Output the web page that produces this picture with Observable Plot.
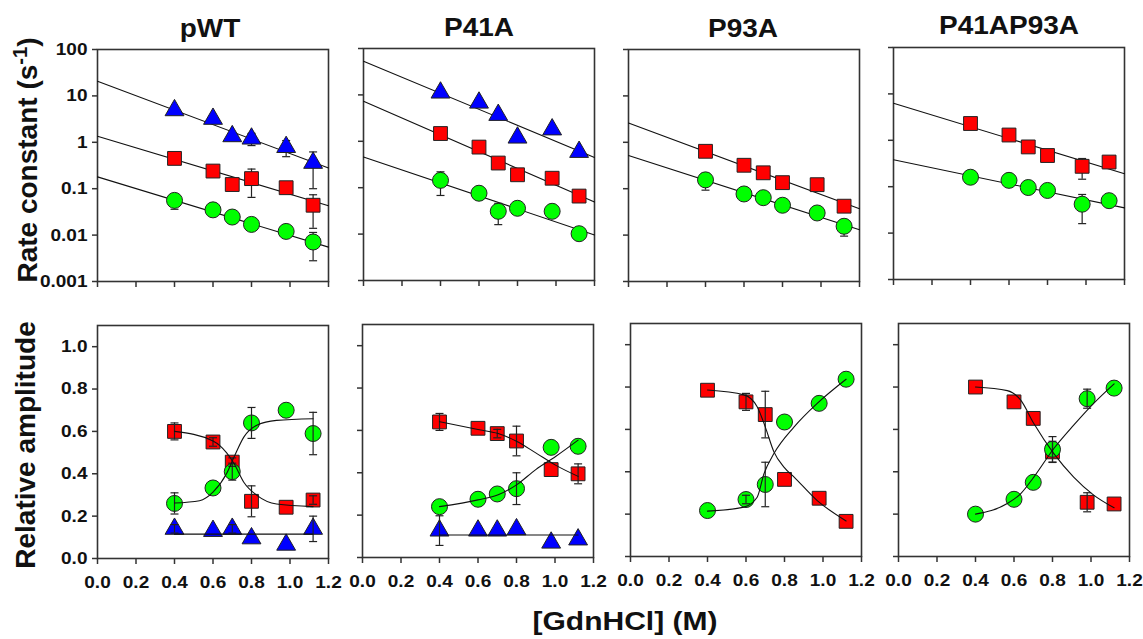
<!DOCTYPE html>
<html>
<head>
<meta charset="utf-8">
<script src="https://cdn.jsdelivr.net/npm/d3@7"></script>
<script src="https://cdn.jsdelivr.net/npm/@observablehq/plot@0.6"></script>
<style>
  html, body { margin: 0; padding: 0; background: #ffffff; }
  #chart { position: relative; width: 1143px; height: 639px; overflow: hidden;
           font-family: "Liberation Sans", Arial, sans-serif; font-weight: bold; color: #111; background: #fff; }
  .panel { position: absolute; }
  .txt { position: absolute; white-space: nowrap; line-height: 1; }
</style>
</head>
<body>
<div id="chart"></div>
<script>
// ---------- data ----------
const mutants = ["pWT", "P41A", "P93A", "P41AP93A"];
const gdn = [0.4, 0.6, 0.7, 0.8, 0.98, 1.12];          // [GdnHCl] (M)
const fitX = [0, 1.2];                                  // ends of the log-linear fits
const xTicks = [0, 0.2, 0.4, 0.6, 0.8, 1.0, 1.2];
const xTickLabels = ["0.0", "0.2", "0.4", "0.6", "0.8", "1.0", "1.2"];
const rateTicks = [0.001, 0.01, 0.1, 1, 10, 100];
const rateTickLabels = ["0.001", "0.01", "0.1", "1", "10", "100"];
const ampTicks = [0, 0.2, 0.4, 0.6, 0.8, 1.0];
const ampTickLabels = ["0.0", "0.2", "0.4", "0.6", "0.8", "1.0"];

// rate constants (s-1): fast = triangles, mid = squares, slow = circles
const pWT_kFast = [4.9, 3.2, 1.35, 1.2, 0.79, 0.36];
const pWT_kFastErr = [0, 0, 0, 0.35, 0.3, 0.26];
const pWT_kFastFit = [20.7, 0.28];
const pWT_kMid = [0.45, 0.24, 0.123, 0.165, 0.105, 0.044];
const pWT_kMidErr = [0, 0, 0, 0.1, 0, 0.03];
const pWT_kMidFit = [1.35, 0.043];
const pWT_kSlow = [0.056, 0.035, 0.0245, 0.017, 0.012, 0.0071];
const pWT_kSlowErr = [0.02, 0, 0, 0, 0, 0.0043];
const pWT_kSlowFit = [0.18, 0.0055];

const P41A_kFast = [11.2, 6.8, 3.7, 1.2, 1.8, 0.59];
const P41A_kFastErr = [0, 0, 0.5, 0, 0, 0.1];
const P41A_kFastFit = [53, 0.45];
const P41A_kMid = [1.47, 0.75, 0.34, 0.19, 0.16, 0.066];
const P41A_kMidErr = [0, 0, 0, 0, 0, 0];
const P41A_kMidFit = [7.3, 0.049];
const P41A_kSlow = [0.144, 0.076, 0.031, 0.036, 0.031, 0.0102];
const P41A_kSlowErr = [0.076, 0, 0.015, 0, 0, 0];
const P41A_kSlowFit = [0.46, 0.0096];

const P93A_kMid = [0.64, 0.32, 0.22, 0.135, 0.122, 0.042];
const P93A_kMidErr = [0, 0, 0, 0, 0.02, 0];
const P93A_kMidFit = [2.6, 0.037];
const P93A_kSlow = [0.155, 0.077, 0.064, 0.044, 0.030, 0.0155];
const P93A_kSlowErr = [0.062, 0, 0, 0, 0, 0.006];
const P93A_kSlowFit = [0.52, 0.013];

const P41AP93A_kMid = [2.3, 1.3, 0.72, 0.47, 0.275, 0.34];
const P41AP93A_kMidErr = [0, 0, 0, 0, 0.13, 0];
const P41AP93A_kMidFit = [6.3, 0.19];
const P41AP93A_kSlow = [0.16, 0.137, 0.096, 0.083, 0.042, 0.05];
const P41AP93A_kSlowErr = [0, 0, 0, 0, 0.026, 0];
const P41AP93A_kSlowFit = [0.38, 0.035];

// relative amplitudes
const pWT_aFast = [0.14, 0.13, 0.14, 0.095, 0.065, 0.14];
const pWT_aFastErr = [0.02, 0, 0.02, 0, 0, 0.06];
const pWT_aFastCurveX = [0.4, 1.12];
const pWT_aFastCurveY = [0.115, 0.115];
const pWT_aMid = [0.60, 0.55, 0.455, 0.27, 0.242, 0.276];
const pWT_aMidErr = [0.04, 0.02, 0.02, 0.073, 0, 0.02];
const pWT_aMidCurveX = [0.4, 0.6, 0.67, 0.71, 0.76, 0.83, 0.93, 1.12];
const pWT_aMidCurveY = [0.60, 0.555, 0.50, 0.447, 0.36, 0.297, 0.257, 0.245];
const pWT_aSlow = [0.26, 0.333, 0.41, 0.64, 0.70, 0.59];
const pWT_aSlowErr = [0.05, 0, 0.04, 0.073, 0, 0.1];
const pWT_aSlowCurveX = [0.4, 0.53, 0.6, 0.67, 0.71, 0.76, 0.83, 0.93, 1.12];
const pWT_aSlowCurveY = [0.262, 0.273, 0.313, 0.40, 0.48, 0.573, 0.63, 0.652, 0.66];

const P41A_aFast = [0.127, 0.127, 0.127, 0.133, 0.07, 0.085];
const P41A_aFastErr = [0.07, 0, 0, 0, 0, 0];
const P41A_aFastCurveX = [0.4, 1.12];
const P41A_aFastCurveY = [0.106, 0.106];
const P41A_aMid = [0.64, 0.61, 0.585, 0.55, 0.415, 0.395];
const P41A_aMidErr = [0.04, 0, 0.02, 0.07, 0, 0.047];
const P41A_aMidCurveX = [0.4, 0.6, 0.705, 0.8, 0.9, 1.005, 1.12];
const P41A_aMidCurveY = [0.641, 0.604, 0.585, 0.549, 0.494, 0.435, 0.383];
const P41A_aSlow = [0.24, 0.275, 0.30, 0.325, 0.52, 0.525];
const P41A_aSlowErr = [0, 0, 0, 0.075, 0, 0];
const P41A_aSlowCurveX = [0.4, 0.6, 0.705, 0.8, 0.9, 1.005, 1.12];
const P41A_aSlowCurveY = [0.24, 0.272, 0.296, 0.343, 0.415, 0.478, 0.554];

const P93A_aMid = [0.785, 0.73, 0.67, 0.364, 0.275, 0.166];
const P93A_aMidErr = [0, 0.04, 0.11, 0, 0, 0];
const P93A_aMidCurveX = [0.4, 0.59, 0.658, 0.70, 0.745, 0.797, 0.85, 0.97, 1.12];
const P93A_aMidCurveY = [0.786, 0.763, 0.707, 0.612, 0.494, 0.422, 0.375, 0.264, 0.168];
const P93A_aSlow = [0.217, 0.269, 0.34, 0.635, 0.723, 0.837];
const P93A_aSlowErr = [0, 0.02, 0.105, 0, 0, 0];
const P93A_aSlowCurveX = [0.4, 0.589, 0.658, 0.693, 0.745, 0.85, 0.97, 1.12];
const P93A_aSlowCurveY = [0.214, 0.233, 0.28, 0.39, 0.486, 0.612, 0.723, 0.837];

const P41AP93A_aMid = [0.80, 0.73, 0.652, 0.494, 0.256, 0.248];
const P41AP93A_aMidErr = [0, 0, 0, 0.05, 0.045, 0];
const P41AP93A_aMidCurveX = [0.4, 0.565, 0.634, 0.703, 0.807, 0.91, 1.014, 1.12];
const P41AP93A_aMidCurveY = [0.80, 0.783, 0.739, 0.628, 0.486, 0.375, 0.29, 0.23];
const P41AP93A_aSlow = [0.20, 0.27, 0.35, 0.506, 0.745, 0.795];
const P41AP93A_aSlowErr = [0, 0, 0, 0.06, 0.045, 0];
const P41AP93A_aSlowCurveX = [0.4, 0.565, 0.634, 0.703, 0.807, 0.91, 1.014, 1.12];
const P41AP93A_aSlowCurveY = [0.20, 0.25, 0.296, 0.375, 0.51, 0.62, 0.723, 0.815];

// ---------- assemble per-panel tables ----------
const rateData = [
  { fast: [pWT_kFast, pWT_kFastErr, pWT_kFastFit], mid: [pWT_kMid, pWT_kMidErr, pWT_kMidFit], slow: [pWT_kSlow, pWT_kSlowErr, pWT_kSlowFit] },
  { fast: [P41A_kFast, P41A_kFastErr, P41A_kFastFit], mid: [P41A_kMid, P41A_kMidErr, P41A_kMidFit], slow: [P41A_kSlow, P41A_kSlowErr, P41A_kSlowFit] },
  { mid: [P93A_kMid, P93A_kMidErr, P93A_kMidFit], slow: [P93A_kSlow, P93A_kSlowErr, P93A_kSlowFit] },
  { mid: [P41AP93A_kMid, P41AP93A_kMidErr, P41AP93A_kMidFit], slow: [P41AP93A_kSlow, P41AP93A_kSlowErr, P41AP93A_kSlowFit] }
];
const ampData = [
  { fast: [pWT_aFast, pWT_aFastErr, pWT_aFastCurveX, pWT_aFastCurveY],
    mid: [pWT_aMid, pWT_aMidErr, pWT_aMidCurveX, pWT_aMidCurveY],
    slow: [pWT_aSlow, pWT_aSlowErr, pWT_aSlowCurveX, pWT_aSlowCurveY] },
  { fast: [P41A_aFast, P41A_aFastErr, P41A_aFastCurveX, P41A_aFastCurveY],
    mid: [P41A_aMid, P41A_aMidErr, P41A_aMidCurveX, P41A_aMidCurveY],
    slow: [P41A_aSlow, P41A_aSlowErr, P41A_aSlowCurveX, P41A_aSlowCurveY] },
  { mid: [P93A_aMid, P93A_aMidErr, P93A_aMidCurveX, P93A_aMidCurveY],
    slow: [P93A_aSlow, P93A_aSlowErr, P93A_aSlowCurveX, P93A_aSlowCurveY] },
  { mid: [P41AP93A_aMid, P41AP93A_aMidErr, P41AP93A_aMidCurveX, P41AP93A_aMidCurveY],
    slow: [P41AP93A_aSlow, P41AP93A_aSlowErr, P41AP93A_aSlowCurveX, P41AP93A_aSlowCurveY] }
];

// ---------- styles & layout ----------
const seriesStyle = [
  { key: "fast", symbol: "triangle", fill: "#0000ff", r: 7 },
  { key: "mid",  symbol: "square",   fill: "#ff0000", r: 7.8 },
  { key: "slow", symbol: "circle",   fill: "#00ff00", r: 8 }
];
const topFrames = [[97, 49], [363, 48], [628, 49], [893, 47]];
const botFrames = [[97, 325], [362, 324], [630, 323], [898, 323]];
const FW = 231;
const capSymbol = { draw(ctx, size) { const w = Math.sqrt(size / Math.PI); ctx.moveTo(-w, 0); ctx.lineTo(w, 0); } };
const INK = "#222";

const chart = document.getElementById("chart");

function points(vals, errs) {
  return gdn.map((x, i) => ({ x, y: vals[i], e: errs[i], lo: vals[i] - errs[i], hi: vals[i] + errs[i] }));
}

function widenText(svg, k) {
  svg.querySelectorAll("text").forEach(t => {
    const tr = t.getAttribute("transform");
    if (tr) {
      t.setAttribute("transform", tr + ` scale(${k},1)`);
    } else {
      const x = +(t.getAttribute("x") || 0), y = +(t.getAttribute("y") || 0);
      t.setAttribute("x", 0); t.setAttribute("y", 0);
      t.setAttribute("transform", `translate(${x},${y}) scale(${k},1)`);
    }
  });
}

function makePanel(pi, isTop) {
  const showY = pi === 0;
  const ml = showY ? 75 : 10, mr = 6, mt = 6, mb = isTop ? 14 : 44;
  const [fx, fy] = (isTop ? topFrames : botFrames)[pi];
  const FH = isTop ? 232 : 233;
  const groups = isTop ? rateData[pi] : ampData[pi];
  const yTicks = isTop ? rateTicks : ampTicks;
  const yLabels = isTop ? rateTickLabels : ampTickLabels;

  const lines = [], bars = [], dots = [];
  for (const s of seriesStyle) {
    const g = groups[s.key];
    if (!g) continue;
    const pts = points(g[0], g[1]);
    const withErr = pts.filter(d => d.e > 0);
    const caps = withErr.flatMap(d => [{ x: d.x, y: d.lo }, { x: d.x, y: d.hi }]);
    bars.push(Plot.ruleX(withErr, { x: "x", y1: "lo", y2: "hi", stroke: INK, strokeWidth: 1.2 }));
    bars.push(Plot.dot(caps, { x: "x", y: "y", symbol: capSymbol, r: 4, stroke: INK, strokeWidth: 1.2, fill: "none" }));
    dots.push(Plot.dot(pts, { x: "x", y: "y", symbol: s.symbol, r: s.r, fill: s.fill, stroke: INK, strokeWidth: 1 }));
    let curve;
    if (isTop) curve = fitX.map((x, i) => ({ x, y: g[2][i] }));
    else curve = g[2].map((x, i) => ({ x, y: g[3][i] }));
    lines.push(Plot.line(curve, { x: "x", y: "y", stroke: "#111", strokeWidth: 1.1, curve: isTop ? "linear" : "monotone-x" }));
  }

  const marks = [
    Plot.frame({ stroke: "#333", strokeWidth: 1.6 }),
    Plot.axisY({ ticks: yTicks, tickSize: 5, tickPadding: 5, strokeWidth: 1.5, stroke: "#333",
                 tickFormat: showY ? (d => yLabels[yTicks.indexOf(d)]) : (() => ""), label: null }),
    Plot.axisX({ ticks: xTicks, tickSize: 6, tickPadding: 11, strokeWidth: 1.5, stroke: "#333",
                 tickFormat: isTop ? (() => "") : (d => xTickLabels[xTicks.indexOf(d)]), label: null })
  ];
  if (isTop) marks.push(...lines, ...bars, ...dots);
  else marks.push(...dots, ...bars, ...lines);

  const svg = Plot.plot({
    width: FW + ml + mr, height: FH + mt + mb,
    marginLeft: ml, marginRight: mr, marginTop: mt, marginBottom: mb,
    x: { domain: [0, 1.2] },
    y: isTop ? { type: "log", domain: [0.001, 100] } : { domain: [0, 1.1] },
    style: { background: "transparent", overflow: "visible", fontFamily: "'Liberation Sans', Arial, sans-serif",
             fontSize: "17px", fontWeight: "bold", color: "#111" },
    marks
  });
  widenText(svg, 1.12);
  const div = document.createElement("div");
  div.className = "panel";
  div.style.left = (fx - ml) + "px";
  div.style.top = (fy - mt) + "px";
  div.appendChild(svg);
  chart.appendChild(div);
}

for (let i = 0; i < 4; i++) { makePanel(i, true); makePanel(i, false); }

// ---------- text ----------
function addText(html, css) {
  const d = document.createElement("div");
  d.className = "txt";
  d.innerHTML = html;
  Object.assign(d.style, css);
  chart.appendChild(d);
  return d;
}
const titleX = [210, 479, 743, 1009];
const titleBase = [37, 36, 36.5, 33.5];
mutants.forEach((m, i) => {
  addText(m, { left: titleX[i] + "px", top: (titleBase[i] - 21) + "px", fontSize: "25px",
               transform: "translateX(-50%) scaleX(1.12)" });
});
addText("Rate constant (s<sup style='font-size:0.72em;vertical-align:0.45em'>-1</sup>)",
        { left: "26px", top: "160px", fontSize: "28px", transform: "translate(-50%,-50%) rotate(-90deg)" });
addText("Relative amplitude",
        { left: "26px", top: "445px", fontSize: "28px", transform: "translate(-50%,-50%) rotate(-90deg)" });
addText("[GdnHCl] (M)", { left: "625px", top: "609px", fontSize: "25px", transform: "translateX(-50%) scaleX(1.2)" });
</script>
</body>
</html>
